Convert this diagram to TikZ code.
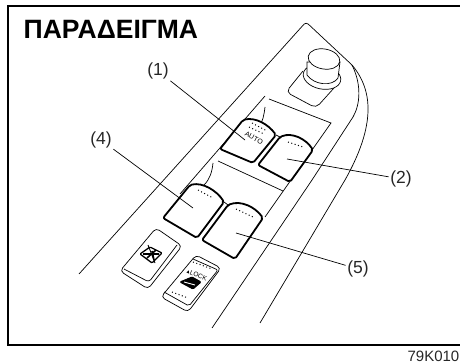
\documentclass[tikz,border=0pt]{standalone}
\usepackage{fontspec}
\setmainfont{Liberation Sans}
\newfontfamily\symfont{DejaVu Sans}
\tikzset{
  outline/.style={line width=.7pt},
  btnedge/.style={line width=1.8pt,fill=white,rounded corners=2pt,line join=round},
  leader/.style={line width=.7pt},
  dotrow/.style={line width=1pt,dash pattern=on 1pt off 2.5pt},
  calllabel/.style={font=\fontsize{17.5}{19}\selectfont,text=black!85,inner sep=1.5pt},
}
\begin{document}
\begin{tikzpicture}[x=1pt,y=-1pt]
\useasboundingbox (0,0) rectangle (460,363);
\clip (0,0) rectangle (460,363);
% frame, open on the right
\draw[line width=2pt] (460,6) -- (8,6) -- (8,345) -- (460,345);
\node[anchor=base west,inner sep=0pt,font=\fontsize{26.5}{28}\selectfont\bfseries] (title) at (23.5,39) {ΠΑΡΑΔΕΙΓΜΑ};
\node[anchor=base east,inner sep=0pt,font=\fontsize{15}{16}\selectfont,text=black!85] (code) at (459.5,361) {79K010};
% door panel
\draw[outline,rounded corners=3pt] (79,274) -- (306,22) -- (352,65);
\draw[outline] (352,65) .. controls (373,90) and (376,125) .. (345,180) -- (260,323);
\draw[outline] (352,65) .. controls (362,85) and (360,105) .. (353,117) -- (312,180) -- (212,328);
\draw[outline] (269,99) -- (331,123) -- (265,217);
\draw[outline] (265,96) -- (180,194);
\draw[outline] (218,161) -- (283,191);
\draw[outline] (265,107) .. controls (264,115) and (263,122) .. (258,128);
\draw[outline] (213,163) .. controls (212,172) and (210,179) .. (204,185);
% mirror knob
\draw[outline,rounded corners=5pt] (303,71) -- (286,92) -- (316,108) -- (334,88);
\draw[outline,fill=white] (322,77) ellipse [x radius=19pt,y radius=12pt,rotate=-12];
\draw[outline,fill=white] (307,62) -- (307,75) .. controls (314,85) and (332,87) .. (338,78) -- (340,62) -- cycle;
\draw[outline,fill=white] (324,59) ellipse [x radius=16pt,y radius=10pt,rotate=-10];
% window buttons
\draw[outline] (276,135) -- (280,137);
\draw[outline] (224,202) -- (228,205);
\draw[btnedge] (243,120) .. controls (255,117) and (268,124) .. (276,135) -- (253,163) -- (220,149) -- cycle;
\draw[btnedge] (280,137) .. controls (292,132) and (306,139) .. (313,150) -- (290,182) -- (258,165) -- cycle;
\draw[btnedge] (190,185) .. controls (203,182) and (217,191) .. (224,202) -- (197,238) -- (163,218) -- cycle;
\draw[btnedge] (228,205) .. controls (241,200) and (255,207) .. (263,218) -- (235,259) -- (202,240) -- cycle;
\draw[dotrow] (252,123) -- (267,131);
\draw[dotrow] (249,127) -- (264,134);
\draw[dotrow] (288,142) -- (303,147);
\draw[dotrow] (198,190) -- (213,198);
\draw[dotrow] (236,209) -- (253,217);
\node[inner sep=0pt,rotate=-27,font=\fontsize{7}{8}\selectfont] (autotext) at (254,138) {AUTO};
% window lock switch
\draw[outline,rounded corners=4pt] (156,228) -- (182,246) -- (148,289) -- (120,271) -- cycle;
\draw[outline,rounded corners=3pt] (177,245) -- (149,282) -- (124,269);
\draw[line width=1.3pt,rounded corners=1pt] (140,254) -- (150,247) -- (162,253) -- (152,263) -- cycle;
\draw[line width=1.6pt] (143,254) -- (159,254) (147,258) -- (156,250) (152,251) -- (154,260);
\draw[line width=.9pt] (148,245) -- (155,263);
% door lock switch
\draw[outline,rounded corners=4pt] (196,255) -- (221,268) -- (188,312) -- (161,297) -- cycle;
\draw[outline,rounded corners=2pt] (193,259) -- (218,270) -- (189,306) -- (164,292);
\draw[dotrow] (193,262) -- (212,269);
\draw[dotrow] (172,292) -- (188,298);
\node[inner sep=0pt,rotate=-23,font=\fontsize{6.5}{7}\selectfont] (locktext) at (197,275) {{\symfont\fontsize{4}{5}\selectfont ▲}LOCK};
\draw[line width=1pt,fill=black,rounded corners=1pt] (180,282) -- (192,277) -- (201,282) -- (193,289) -- cycle;
\draw[line width=.9pt,white] (184,282) -- (195,285);
% call-outs
\node[calllabel] (lab1) at (158,71) {(1)};
\node[calllabel] (lab2) at (401,179) {(2)};
\node[calllabel] (lab4) at (101,140) {(4)};
\node[calllabel] (lab5) at (358,269) {(5)};
\coordinate (tip1) at (245,140);
\coordinate (tip2) at (287,159);
\coordinate (tip4) at (193,208);
\coordinate (tip5) at (236,233);
\draw[leader] (lab1) -- (tip1);
\draw[leader] (lab2) -- (tip2);
\draw[leader] (lab4) -- (tip4);
\draw[leader] (lab5) -- (tip5);
\end{tikzpicture}
\end{document}
